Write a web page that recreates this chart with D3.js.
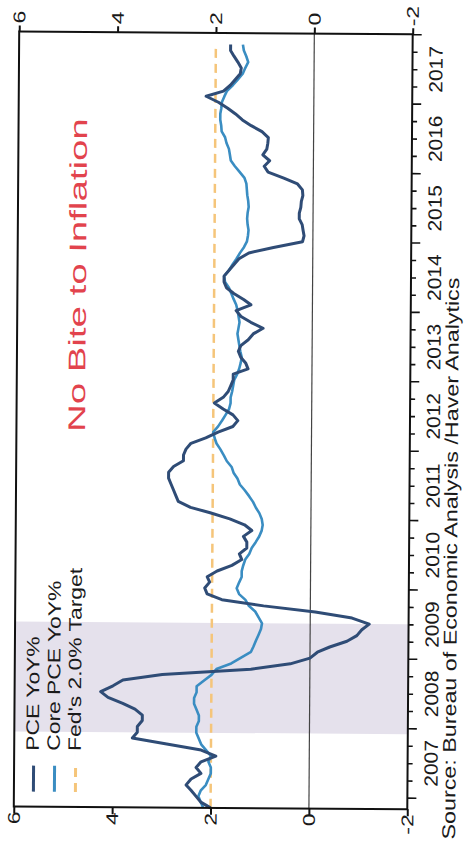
<!DOCTYPE html>
<html><head><meta charset="utf-8">
<script src="https://cdn.jsdelivr.net/npm/d3@7"></script>
<style>
html,body{margin:0;padding:0;background:#fff;}
svg{display:block;}
text{font-family:"Liberation Sans",Arial,Helvetica,sans-serif;}
</style>
</head><body>
<svg id="chart" width="464" height="847"></svg>
<script>
// ---------- data (monthly, starting Nov 2006) ----------
const startMonth = "2006-11";
const pceValues = [
  2.0, 2.2,
  2.3, 2.4, 2.5, 2.4, 2.2, 2.3, 2.2, 1.9, 2.2, 2.9, 3.6, 3.5,
  3.5, 3.4, 3.4, 3.55, 3.8, 4.1, 4.25, 4.0, 3.8, 3.0, 1.2, 0.4,
  0.0, -0.15, -0.4, -0.75, -0.95, -1.05, -1.2, -0.85, -0.1, 0.95, 1.8, 2.1,
  2.15, 2.05, 2.1, 1.9, 1.6, 1.4, 1.45, 1.3, 1.3, 1.37, 1.2, 1.35,
  1.65, 2.05, 2.45, 2.7, 2.75, 2.8, 2.85, 2.9, 2.9, 2.8, 2.6, 2.6,
  2.55, 2.45, 2.15, 1.9, 1.6, 1.5, 1.6, 1.8, 1.98, 1.8, 1.7, 1.65,
  1.6, 1.6, 1.3, 1.35, 1.45, 1.5, 1.45, 1.3, 1.2, 1.0, 1.25, 1.45,
  1.55, 1.25, 1.4, 1.6, 1.75, 1.8, 1.8, 1.7, 1.6, 1.5, 1.3, 0.8,
  0.21, 0.18, 0.2, 0.22, 0.28, 0.28, 0.25, 0.24, 0.21, 0.22, 0.32, 0.6,
  0.92, 1.0, 0.89, 1.03, 0.95, 0.93, 0.92, 1.05, 1.27, 1.45, 1.59, 1.75,
  1.94, 2.19, 1.84, 1.7, 1.6, 1.5, 1.48, 1.55, 1.63, 1.7, 1.7
];
const coreValues = [
  2.15, 2.2,
  2.25, 2.2, 2.1, 2.05, 2.0, 2.0, 2.05, 2.0, 2.1, 2.2, 2.25, 2.3,
  2.3, 2.25, 2.25, 2.3, 2.35, 2.35, 2.3, 2.3, 2.15, 2.0, 1.9, 1.6,
  1.4, 1.2, 1.15, 1.1, 1.05, 1.0, 0.98, 1.05, 1.12, 1.25, 1.32, 1.45,
  1.5, 1.45, 1.4, 1.4, 1.37, 1.33, 1.25, 1.2, 1.12, 1.05, 1.0, 0.98,
  1.0, 1.05, 1.12, 1.18, 1.26, 1.35, 1.45, 1.5, 1.58, 1.62, 1.72, 1.78,
  1.85, 1.93, 1.97, 2.0, 1.9, 1.82, 1.75, 1.68, 1.65, 1.65, 1.62, 1.6,
  1.58, 1.52, 1.48, 1.45, 1.43, 1.46, 1.48, 1.5, 1.52, 1.5, 1.48, 1.5,
  1.52, 1.55, 1.6, 1.65, 1.7, 1.78, 1.8, 1.7, 1.63, 1.55, 1.48, 1.4,
  1.34, 1.32, 1.31, 1.33, 1.34, 1.33, 1.31, 1.32, 1.34, 1.35, 1.36, 1.4,
  1.5, 1.6, 1.68, 1.7, 1.72, 1.77, 1.8, 1.87, 1.88, 1.9, 1.9, 1.88,
  1.87, 1.82, 1.77, 1.65, 1.55, 1.45, 1.4, 1.34, 1.38, 1.43, 1.45
];
const fedTarget = 2.0;
const recession = ["2007-12-01", "2009-07-01"];
const timeDomain = ["2006-11-01", "2018-01-01"];
const valueTicks = [6, 4, 2, 0, -2];
const valueLabels = ["6", "4", "2", "0", "-2"];
const yearLabels = ["2007","2008","2009","2010","2011","2012","2013","2014","2015","2016","2017"];
const seriesNames = ["PCE YoY%", "Core PCE YoY%", "Fed's 2.0% Target"];
const titleText = "No Bite to Inflation";
const sourceText = "Source:  Bureau of Economic Analysis /Haver Analytics";

// ---------- setup ----------
const parseM = d3.timeParse("%Y-%m");
const parseD = d3.timeParse("%Y-%m-%d");
const start = parseM(startMonth);
const toSeries = vals => vals.map((v, i) => ({date: d3.timeMonth.offset(start, i), value: v}));
const pce = toSeries(pceValues);
const core = toSeries(coreValues);

const C = {pce: "#2f4c76", core: "#3a8dc2", fed: "#f5c57a", title: "#e2434d", shade: "#e5e1ec"};
const frame = {left: 16.5, right: 410, top: 33, bottom: 808};

const svg = d3.select("#chart");
const root = svg.append("g").attr("transform", "rotate(0.4,232,420)");

const yT = d3.scaleTime().domain(timeDomain.map(parseD)).range([frame.bottom, frame.top]);
const xV = d3.scaleLinear().domain([6, -2]).range([frame.left, frame.right]);

function rtext(g, x, y, txt, o) {
  return g.append("text")
    .attr("transform", `translate(${x},${y}) rotate(-90) scale(${o.sx || 1},1)`)
    .attr("text-anchor", o.anchor || "middle")
    .attr("font-size", o.size)
    .attr("fill", o.fill || "#1a1a1a")
    .text(txt);
}

// recession band
root.append("rect")
  .attr("x", frame.left).attr("width", frame.right - frame.left)
  .attr("y", yT(parseD(recession[1])))
  .attr("height", yT(parseD(recession[0])) - yT(parseD(recession[1])))
  .attr("fill", C.shade);

// zero line
root.append("line")
  .attr("x1", xV(0)).attr("x2", xV(0))
  .attr("y1", frame.top).attr("y2", frame.bottom)
  .attr("stroke", "#444").attr("stroke-width", 1.2);

// Fed target
root.append("line")
  .attr("x1", xV(fedTarget)).attr("x2", xV(fedTarget))
  .attr("y1", yT(pce[0].date)).attr("y2", yT(pce[pce.length - 1].date))
  .attr("stroke", C.fed).attr("stroke-width", 2.5).attr("stroke-dasharray", "9,6");

const line = d3.line().x(d => xV(d.value)).y(d => yT(d.date));
root.append("path").datum(core).attr("d", line)
  .attr("fill", "none").attr("stroke", C.core).attr("stroke-width", 2.6).attr("stroke-linejoin", "round");
root.append("path").datum(pce).attr("d", line)
  .attr("fill", "none").attr("stroke", C.pce).attr("stroke-width", 3).attr("stroke-linejoin", "round");

// frame
root.append("rect")
  .attr("x", frame.left).attr("y", frame.top)
  .attr("width", frame.right - frame.left).attr("height", frame.bottom - frame.top)
  .attr("fill", "none").attr("stroke", "#111").attr("stroke-width", 2);

// value axes (top & bottom)
const topAx = root.append("g").attr("transform", `translate(0,${frame.top})`)
  .call(d3.axisTop(xV).tickValues(valueTicks).tickSize(6).tickFormat(""));
const botAx = root.append("g").attr("transform", `translate(0,${frame.bottom})`)
  .call(d3.axisBottom(xV).tickValues(valueTicks).tickSize(7).tickFormat(""));
[topAx, botAx].forEach(a => {
  a.select(".domain").remove();
  a.selectAll("line").attr("stroke", "#111").attr("stroke-width", 2);
});
valueTicks.forEach((v, i) => {
  rtext(root, xV(v) + 6, 25, valueLabels[i], {size: 17, sx: 1.35, anchor: "start"});
  rtext(root, xV(v) + 6, 813, valueLabels[i], {size: 17, sx: 1.35, anchor: "end"});
});

// time axis (right)
const quarters = d3.timeMonth.every(3).range(parseD(timeDomain[0]), d3.timeDay.offset(parseD(timeDomain[1]), 1));
const rAx = root.append("g").attr("transform", `translate(${frame.right},0)`)
  .call(d3.axisRight(yT).tickValues(quarters).tickSize(5).tickFormat(""));
rAx.select(".domain").remove();
rAx.selectAll(".tick line")
  .attr("x2", d => d.getMonth() === 0 ? 9 : 5)
  .attr("stroke", "#111").attr("stroke-width", 1.6);
yearLabels.forEach(y => {
  rtext(root, 440, yT(parseD(y + "-07-01")), y, {size: 19, sx: 1.1});
});

// title
rtext(root, 85, 433, titleText, {size: 24, sx: 1.6, anchor: "start", fill: C.title});

// legend
const legX = [36, 57, 78];
const legStyles = [
  {stroke: C.pce, dash: null, w: 3},
  {stroke: C.core, dash: null, w: 3},
  {stroke: C.fed, dash: "9,6", w: 3}
];
seriesNames.forEach((name, i) => {
  root.append("line")
    .attr("x1", legX[i]).attr("x2", legX[i])
    .attr("y1", 793).attr("y2", 767)
    .attr("stroke", legStyles[i].stroke).attr("stroke-width", legStyles[i].w)
    .attr("stroke-dasharray", legStyles[i].dash);
  rtext(root, legX[i] + 5, 752, name, {size: 18, sx: 1.27, anchor: "start"});
});

// source
rtext(root, 458, 838, sourceText, {size: 18.5, sx: 1.26, anchor: "start"});
</script>
</body></html>
